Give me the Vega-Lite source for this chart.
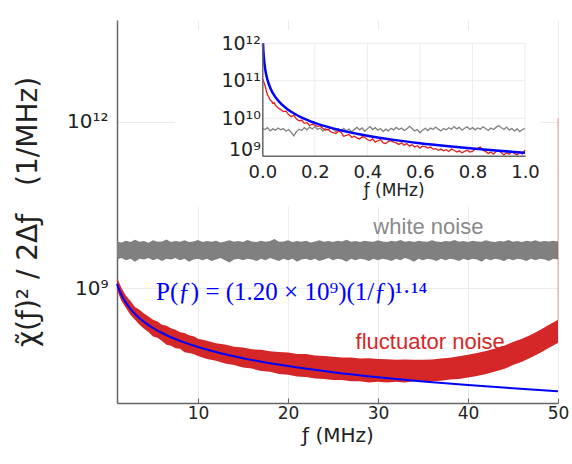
{
  "$schema": "https://vega.github.io/schema/vega-lite/v6.json",
  "width": 441,
  "height": 383,
  "autosize": {"type": "none"},
  "padding": {"left": 117, "top": 20, "right": 14, "bottom": 61},
  "background": "white",
  "config": {
    "view": {"stroke": null},
    "axis": {"labelFont": "DejaVu Sans", "titleFont": "DejaVu Sans", "labelColor": "#222", "titleColor": "#222", "domainColor": "#666", "domainWidth": 1.5, "gridColor": "#ebebeb", "titleFontWeight": "normal", "labelOverlap": false}
  },
  "datasets": {
    "white": [
      {"f": 1, "lo": 3.3e9, "hi": 7.0e9}, {"f": 1.5, "lo": 3.5e9, "hi": 6.7e9}, {"f": 2, "lo": 3.2e9, "hi": 7.2e9}, {"f": 2.5, "lo": 3.4e9, "hi": 6.8e9}, {"f": 3, "lo": 3.0e9, "hi": 7.5e9},
      {"f": 3.5, "lo": 3.4e9, "hi": 6.9e9}, {"f": 4, "lo": 3.3e9, "hi": 7.1e9}, {"f": 4.5, "lo": 3.5e9, "hi": 6.6e9}, {"f": 5, "lo": 3.2e9, "hi": 7.3e9}, {"f": 5.5, "lo": 3.4e9, "hi": 6.9e9},
      {"f": 6, "lo": 3.1e9, "hi": 7.0e9}, {"f": 6.5, "lo": 3.4e9, "hi": 7.6e9}, {"f": 7, "lo": 3.3e9, "hi": 6.8e9}, {"f": 7.5, "lo": 3.5e9, "hi": 7.1e9}, {"f": 8, "lo": 3.2e9, "hi": 6.9e9},
      {"f": 8.5, "lo": 3.4e9, "hi": 7.3e9}, {"f": 9, "lo": 3.0e9, "hi": 6.8e9}, {"f": 9.5, "lo": 3.3e9, "hi": 7.0e9}, {"f": 10, "lo": 3.4e9, "hi": 7.4e9}, {"f": 10.5, "lo": 3.2e9, "hi": 6.8e9},
      {"f": 11, "lo": 3.4e9, "hi": 7.1e9}, {"f": 11.5, "lo": 3.1e9, "hi": 6.9e9}, {"f": 12, "lo": 3.3e9, "hi": 7.2e9}, {"f": 12.5, "lo": 3.5e9, "hi": 6.7e9}, {"f": 13, "lo": 3.2e9, "hi": 7.0e9},
      {"f": 13.5, "lo": 2.9e9, "hi": 7.3e9}, {"f": 14, "lo": 3.3e9, "hi": 6.9e9}, {"f": 14.5, "lo": 3.4e9, "hi": 7.1e9}, {"f": 15, "lo": 3.2e9, "hi": 6.8e9}, {"f": 15.5, "lo": 3.4e9, "hi": 7.4e9},
      {"f": 16, "lo": 3.3e9, "hi": 7.0e9}, {"f": 16.5, "lo": 3.1e9, "hi": 6.8e9}, {"f": 17, "lo": 3.4e9, "hi": 7.2e9}, {"f": 17.5, "lo": 3.2e9, "hi": 6.9e9}, {"f": 18, "lo": 3.5e9, "hi": 7.1e9},
      {"f": 18.5, "lo": 3.3e9, "hi": 7.7e9}, {"f": 19, "lo": 3.1e9, "hi": 6.9e9}, {"f": 19.5, "lo": 3.4e9, "hi": 7.0e9}, {"f": 20, "lo": 3.2e9, "hi": 7.3e9}, {"f": 20.5, "lo": 3.4e9, "hi": 6.8e9},
      {"f": 21, "lo": 3.0e9, "hi": 7.1e9}, {"f": 21.5, "lo": 3.3e9, "hi": 6.9e9}, {"f": 22, "lo": 3.4e9, "hi": 7.2e9}, {"f": 22.5, "lo": 3.2e9, "hi": 6.7e9}, {"f": 23, "lo": 3.4e9, "hi": 7.0e9},
      {"f": 23.5, "lo": 3.1e9, "hi": 7.3e9}, {"f": 24, "lo": 3.3e9, "hi": 6.9e9}, {"f": 24.5, "lo": 3.5e9, "hi": 7.1e9}, {"f": 25, "lo": 3.2e9, "hi": 6.8e9}, {"f": 25.5, "lo": 3.4e9, "hi": 7.2e9},
      {"f": 26, "lo": 3.3e9, "hi": 7.0e9}, {"f": 26.5, "lo": 3.0e9, "hi": 7.5e9}, {"f": 27, "lo": 3.4e9, "hi": 6.9e9}, {"f": 27.5, "lo": 3.2e9, "hi": 7.1e9}, {"f": 28, "lo": 3.4e9, "hi": 6.8e9},
      {"f": 28.5, "lo": 3.3e9, "hi": 7.2e9}, {"f": 29, "lo": 3.1e9, "hi": 7.0e9}, {"f": 29.5, "lo": 3.4e9, "hi": 6.9e9}, {"f": 30, "lo": 3.2e9, "hi": 7.3e9}, {"f": 30.5, "lo": 3.4e9, "hi": 7.0e9},
      {"f": 31, "lo": 3.3e9, "hi": 6.8e9}, {"f": 31.5, "lo": 3.1e9, "hi": 7.2e9}, {"f": 32, "lo": 3.4e9, "hi": 7.0e9}, {"f": 32.5, "lo": 3.2e9, "hi": 7.4e9}, {"f": 33, "lo": 3.5e9, "hi": 6.9e9},
      {"f": 33.5, "lo": 3.3e9, "hi": 7.1e9}, {"f": 34, "lo": 3.0e9, "hi": 6.8e9}, {"f": 34.5, "lo": 3.4e9, "hi": 7.2e9}, {"f": 35, "lo": 3.2e9, "hi": 7.0e9}, {"f": 35.5, "lo": 3.4e9, "hi": 6.9e9},
      {"f": 36, "lo": 3.3e9, "hi": 7.3e9}, {"f": 36.5, "lo": 3.1e9, "hi": 7.0e9}, {"f": 37, "lo": 3.4e9, "hi": 6.8e9}, {"f": 37.5, "lo": 3.2e9, "hi": 7.1e9}, {"f": 38, "lo": 3.4e9, "hi": 7.0e9},
      {"f": 38.5, "lo": 3.3e9, "hi": 7.4e9}, {"f": 39, "lo": 3.1e9, "hi": 6.9e9}, {"f": 39.5, "lo": 3.4e9, "hi": 7.1e9}, {"f": 40, "lo": 3.2e9, "hi": 6.8e9}, {"f": 40.5, "lo": 3.4e9, "hi": 7.2e9},
      {"f": 41, "lo": 3.3e9, "hi": 7.0e9}, {"f": 41.5, "lo": 3.0e9, "hi": 6.9e9}, {"f": 42, "lo": 3.4e9, "hi": 7.3e9}, {"f": 42.5, "lo": 3.2e9, "hi": 7.0e9}, {"f": 43, "lo": 3.4e9, "hi": 6.8e9},
      {"f": 43.5, "lo": 3.3e9, "hi": 7.1e9}, {"f": 44, "lo": 3.1e9, "hi": 7.0e9}, {"f": 44.5, "lo": 3.4e9, "hi": 7.4e9}, {"f": 45, "lo": 3.2e9, "hi": 6.9e9}, {"f": 45.5, "lo": 3.4e9, "hi": 7.1e9},
      {"f": 46, "lo": 3.3e9, "hi": 6.8e9}, {"f": 46.5, "lo": 3.1e9, "hi": 7.2e9}, {"f": 47, "lo": 3.4e9, "hi": 7.0e9}, {"f": 47.5, "lo": 3.2e9, "hi": 7.3e9}, {"f": 48, "lo": 3.4e9, "hi": 6.9e9},
      {"f": 48.5, "lo": 3.3e9, "hi": 7.1e9}, {"f": 49, "lo": 3.1e9, "hi": 7.0e9}, {"f": 49.5, "lo": 3.4e9, "hi": 7.2e9}, {"f": 50, "lo": 3.3e9, "hi": 7.0e9}
    ],
    "fluct": [
      {"f": 1, "lo": 9.3e8, "hi": 1.53e9}, {"f": 1.25, "lo": 7.3e8, "hi": 1.25e9}, {"f": 1.5, "lo": 5.9e8, "hi": 1.01e9}, {"f": 2, "lo": 4.4e8, "hi": 7.3e8}, {"f": 2.5, "lo": 3.3e8, "hi": 5.9e8},
      {"f": 3, "lo": 2.7e8, "hi": 4.6e8}, {"f": 3.5, "lo": 2.2e8, "hi": 4.1e8}, {"f": 4, "lo": 1.85e8, "hi": 3.5e8}, {"f": 4.5, "lo": 1.62e8, "hi": 3.1e8}, {"f": 5, "lo": 1.35e8, "hi": 2.7e8},
      {"f": 5.5, "lo": 1.28e8, "hi": 2.5e8}, {"f": 6, "lo": 1.12e8, "hi": 2.2e8}, {"f": 6.5, "lo": 9.6e7, "hi": 2.1e8}, {"f": 7, "lo": 9.2e7, "hi": 1.9e8}, {"f": 7.5, "lo": 8.3e7, "hi": 1.78e8},
      {"f": 8, "lo": 8.1e7, "hi": 1.6e8}, {"f": 8.5, "lo": 7.0e7, "hi": 1.55e8}, {"f": 9, "lo": 6.8e7, "hi": 1.42e8}, {"f": 9.5, "lo": 6.5e7, "hi": 1.36e8}, {"f": 10, "lo": 6.0e7, "hi": 1.22e8},
      {"f": 11, "lo": 5.3e7, "hi": 1.13e8}, {"f": 12, "lo": 4.9e7, "hi": 1.02e8},
      {"f": 13, "lo": 4.4e7, "hi": 9.7e7}, {"f": 14, "lo": 4.1e7, "hi": 8.8e7}, {"f": 15, "lo": 3.7e7, "hi": 8.5e7}, {"f": 16, "lo": 3.55e7, "hi": 7.9e7}, {"f": 17, "lo": 3.2e7, "hi": 7.8e7},
      {"f": 18, "lo": 3.1e7, "hi": 7.3e7}, {"f": 19, "lo": 2.85e7, "hi": 7.1e7}, {"f": 20, "lo": 2.75e7, "hi": 6.9e7}, {"f": 21, "lo": 2.55e7, "hi": 6.5e7}, {"f": 22, "lo": 2.5e7, "hi": 6.5e7},
      {"f": 23, "lo": 2.35e7, "hi": 6.1e7}, {"f": 24, "lo": 2.3e7, "hi": 6.0e7}, {"f": 25, "lo": 2.2e7, "hi": 5.8e7}, {"f": 26, "lo": 2.2e7, "hi": 5.6e7}, {"f": 27, "lo": 2.1e7, "hi": 5.65e7},
      {"f": 28, "lo": 2.1e7, "hi": 5.4e7}, {"f": 29, "lo": 2.0e7, "hi": 5.45e7}, {"f": 30, "lo": 2.05e7, "hi": 5.3e7}, {"f": 31, "lo": 2.0e7, "hi": 5.25e7}, {"f": 32, "lo": 2.05e7, "hi": 5.1e7},
      {"f": 33, "lo": 2.0e7, "hi": 5.2e7}, {"f": 34, "lo": 2.1e7, "hi": 5.1e7}, {"f": 35, "lo": 2.05e7, "hi": 5.15e7}, {"f": 36, "lo": 2.1e7, "hi": 5.2e7}, {"f": 37, "lo": 2.15e7, "hi": 5.4e7},
      {"f": 38, "lo": 2.25e7, "hi": 5.55e7}, {"f": 39, "lo": 2.3e7, "hi": 5.9e7}, {"f": 40, "lo": 2.45e7, "hi": 6.3e7}, {"f": 41, "lo": 2.6e7, "hi": 6.8e7}, {"f": 42, "lo": 2.85e7, "hi": 7.4e7},
      {"f": 43, "lo": 3.15e7, "hi": 8.2e7}, {"f": 44, "lo": 3.5e7, "hi": 9.2e7}, {"f": 45, "lo": 4.1e7, "hi": 1.07e8}, {"f": 46, "lo": 4.7e7, "hi": 1.22e8}, {"f": 47, "lo": 5.6e7, "hi": 1.45e8},
      {"f": 48, "lo": 6.8e7, "hi": 1.77e8}, {"f": 49, "lo": 8.4e7, "hi": 2.2e8}, {"f": 50, "lo": 1.03e8, "hi": 2.7e8}
    ],
    "fit": [
      {"f": 1, "v": 1.2e9}, {"f": 1.25, "v": 9.305e8}, {"f": 1.5, "v": 7.556e8}, {"f": 2, "v": 5.445e8}, {"f": 2.5, "v": 4.222e8}, {"f": 3, "v": 3.43e8}, {"f": 4, "v": 2.471e8},
      {"f": 5, "v": 1.916e8}, {"f": 6, "v": 1.556e8}, {"f": 7, "v": 1.306e8}, {"f": 8, "v": 1.121e8}, {"f": 10, "v": 8.693e7}, {"f": 12, "v": 7.062e7}, {"f": 15, "v": 5.476e7},
      {"f": 18, "v": 4.448e7}, {"f": 20, "v": 3.945e7}, {"f": 25, "v": 3.058e7}, {"f": 30, "v": 2.485e7}, {"f": 35, "v": 2.084e7}, {"f": 40, "v": 1.79e7}, {"f": 45, "v": 1.565e7}, {"f": 50, "v": 1.388e7}
    ],
    "igray": [
      {"f": 0, "v": 5.4e9}, {"f": 0.01, "v": 5.0e9}, {"f": 0.02, "v": 5.6e9}, {"f": 0.03, "v": 4.6e9}, {"f": 0.04, "v": 5.2e9}, {"f": 0.05, "v": 4.8e9}, {"f": 0.06, "v": 5.5e9}, {"f": 0.07, "v": 4.9e9}, {"f": 0.08, "v": 5.3e9}, {"f": 0.09, "v": 4.5e9},
      {"f": 0.1, "v": 5.0e9}, {"f": 0.11, "v": 4.2e9}, {"f": 0.12, "v": 3.4e9}, {"f": 0.13, "v": 4.4e9}, {"f": 0.14, "v": 5.1e9}, {"f": 0.15, "v": 4.7e9}, {"f": 0.16, "v": 5.6e9}, {"f": 0.17, "v": 4.9e9}, {"f": 0.18, "v": 5.8e9}, {"f": 0.19, "v": 5.2e9},
      {"f": 0.2, "v": 6.0e9}, {"f": 0.21, "v": 5.0e9}, {"f": 0.22, "v": 5.5e9}, {"f": 0.23, "v": 4.6e9}, {"f": 0.24, "v": 5.3e9}, {"f": 0.25, "v": 4.8e9}, {"f": 0.26, "v": 5.6e9}, {"f": 0.27, "v": 5.0e9}, {"f": 0.28, "v": 4.4e9}, {"f": 0.29, "v": 5.2e9},
      {"f": 0.3, "v": 4.7e9}, {"f": 0.31, "v": 5.4e9}, {"f": 0.32, "v": 4.6e9}, {"f": 0.33, "v": 5.1e9}, {"f": 0.34, "v": 4.3e9}, {"f": 0.35, "v": 5.0e9}, {"f": 0.36, "v": 5.7e9}, {"f": 0.37, "v": 4.9e9}, {"f": 0.38, "v": 5.5e9}, {"f": 0.39, "v": 4.5e9},
      {"f": 0.4, "v": 5.2e9}, {"f": 0.41, "v": 6.0e9}, {"f": 0.42, "v": 5.0e9}, {"f": 0.43, "v": 5.6e9}, {"f": 0.44, "v": 4.8e9}, {"f": 0.45, "v": 5.3e9}, {"f": 0.46, "v": 4.4e9}, {"f": 0.47, "v": 5.1e9}, {"f": 0.48, "v": 4.6e9}, {"f": 0.49, "v": 5.4e9},
      {"f": 0.5, "v": 4.9e9}, {"f": 0.51, "v": 5.7e9}, {"f": 0.52, "v": 5.0e9}, {"f": 0.53, "v": 5.5e9}, {"f": 0.54, "v": 4.7e9}, {"f": 0.55, "v": 5.2e9}, {"f": 0.56, "v": 6.1e9}, {"f": 0.57, "v": 5.3e9}, {"f": 0.58, "v": 4.6e9}, {"f": 0.59, "v": 5.0e9},
      {"f": 0.6, "v": 4.1e9}, {"f": 0.61, "v": 4.8e9}, {"f": 0.62, "v": 5.4e9}, {"f": 0.63, "v": 4.7e9}, {"f": 0.64, "v": 5.5e9}, {"f": 0.65, "v": 5.0e9}, {"f": 0.66, "v": 5.8e9}, {"f": 0.67, "v": 5.1e9}, {"f": 0.68, "v": 4.6e9}, {"f": 0.69, "v": 5.3e9},
      {"f": 0.7, "v": 4.9e9}, {"f": 0.71, "v": 5.6e9}, {"f": 0.72, "v": 5.1e9}, {"f": 0.73, "v": 6.0e9}, {"f": 0.74, "v": 5.2e9}, {"f": 0.75, "v": 5.7e9}, {"f": 0.76, "v": 4.8e9}, {"f": 0.77, "v": 5.4e9}, {"f": 0.78, "v": 5.9e9}, {"f": 0.79, "v": 5.0e9},
      {"f": 0.8, "v": 5.6e9}, {"f": 0.81, "v": 4.9e9}, {"f": 0.82, "v": 5.5e9}, {"f": 0.83, "v": 5.1e9}, {"f": 0.84, "v": 5.9e9}, {"f": 0.85, "v": 5.3e9}, {"f": 0.86, "v": 4.7e9}, {"f": 0.87, "v": 5.5e9}, {"f": 0.88, "v": 5.0e9}, {"f": 0.89, "v": 5.7e9},
      {"f": 0.9, "v": 6.4e9}, {"f": 0.91, "v": 5.6e9}, {"f": 0.92, "v": 5.0e9}, {"f": 0.93, "v": 5.8e9}, {"f": 0.94, "v": 4.8e9}, {"f": 0.95, "v": 5.3e9}, {"f": 0.96, "v": 4.6e9}, {"f": 0.97, "v": 5.2e9}, {"f": 0.98, "v": 4.4e9}, {"f": 0.99, "v": 5.0e9},
      {"f": 1.0, "v": 5.3e9}
    ],
    "ired": [
      {"f": 0, "v": 1.16e11}, {"f": 0.005, "v": 9.5e10}, {"f": 0.01, "v": 7.7e10}, {"f": 0.015, "v": 5.5e10}, {"f": 0.02, "v": 4.2e10}, {"f": 0.025, "v": 3.7e10}, {"f": 0.03, "v": 3.0e10}, {"f": 0.035, "v": 2.9e10},
      {"f": 0.04, "v": 2.5e10}, {"f": 0.045, "v": 2.6e10}, {"f": 0.05, "v": 2.2e10}, {"f": 0.06, "v": 1.9e10}, {"f": 0.07, "v": 1.7e10}, {"f": 0.08, "v": 1.5e10}, {"f": 0.09, "v": 1.55e10},
      {"f": 0.1, "v": 1.25e10}, {"f": 0.11, "v": 1.1e10}, {"f": 0.12, "v": 1.2e10}, {"f": 0.13, "v": 9.5e9}, {"f": 0.14, "v": 8.5e9}, {"f": 0.15, "v": 8.8e9}, {"f": 0.16, "v": 7.3e9}, {"f": 0.17, "v": 7.6e9},
      {"f": 0.18, "v": 6.4e9}, {"f": 0.19, "v": 6.9e9}, {"f": 0.2, "v": 6.6e9}, {"f": 0.21, "v": 6.0e9}, {"f": 0.22, "v": 6.3e9}, {"f": 0.23, "v": 5.4e9}, {"f": 0.24, "v": 4.8e9}, {"f": 0.25, "v": 5.1e9},
      {"f": 0.26, "v": 4.4e9}, {"f": 0.27, "v": 4.1e9}, {"f": 0.28, "v": 3.9e9}, {"f": 0.29, "v": 4.5e9}, {"f": 0.3, "v": 4.2e9}, {"f": 0.31, "v": 3.3e9}, {"f": 0.32, "v": 3.5e9}, {"f": 0.33, "v": 3.7e9},
      {"f": 0.34, "v": 3.1e9}, {"f": 0.35, "v": 3.3e9}, {"f": 0.36, "v": 3.0e9}, {"f": 0.37, "v": 2.8e9}, {"f": 0.38, "v": 3.2e9}, {"f": 0.39, "v": 3.1e9}, {"f": 0.4, "v": 2.7e9}, {"f": 0.41, "v": 2.5e9},
      {"f": 0.42, "v": 2.8e9}, {"f": 0.43, "v": 2.3e9}, {"f": 0.44, "v": 2.5e9}, {"f": 0.45, "v": 2.7e9}, {"f": 0.46, "v": 2.2e9}, {"f": 0.47, "v": 2.1e9}, {"f": 0.48, "v": 2.4e9}, {"f": 0.49, "v": 2.5e9},
      {"f": 0.5, "v": 2.3e9}, {"f": 0.51, "v": 2.2e9}, {"f": 0.52, "v": 2.0e9}, {"f": 0.53, "v": 2.2e9}, {"f": 0.54, "v": 1.9e9}, {"f": 0.55, "v": 2.1e9}, {"f": 0.56, "v": 1.8e9}, {"f": 0.57, "v": 1.95e9},
      {"f": 0.58, "v": 1.7e9}, {"f": 0.59, "v": 1.85e9}, {"f": 0.6, "v": 1.6e9}, {"f": 0.61, "v": 1.8e9}, {"f": 0.62, "v": 1.75e9}, {"f": 0.63, "v": 1.6e9}, {"f": 0.64, "v": 1.7e9}, {"f": 0.65, "v": 1.5e9},
      {"f": 0.66, "v": 1.55e9}, {"f": 0.67, "v": 1.4e9}, {"f": 0.68, "v": 1.5e9}, {"f": 0.69, "v": 1.35e9}, {"f": 0.7, "v": 1.45e9}, {"f": 0.71, "v": 1.3e9}, {"f": 0.72, "v": 1.5e9}, {"f": 0.73, "v": 1.4e9},
      {"f": 0.74, "v": 1.25e9}, {"f": 0.75, "v": 1.35e9}, {"f": 0.76, "v": 1.2e9}, {"f": 0.77, "v": 1.3e9}, {"f": 0.78, "v": 1.4e9}, {"f": 0.79, "v": 1.25e9}, {"f": 0.8, "v": 1.3e9}, {"f": 0.81, "v": 1.5e9},
      {"f": 0.82, "v": 1.6e9}, {"f": 0.83, "v": 1.7e9}, {"f": 0.84, "v": 1.4e9}, {"f": 0.85, "v": 1.3e9}, {"f": 0.86, "v": 1.15e9}, {"f": 0.87, "v": 1.25e9}, {"f": 0.88, "v": 1.1e9}, {"f": 0.89, "v": 1.3e9},
      {"f": 0.9, "v": 1.4e9}, {"f": 0.91, "v": 1.2e9}, {"f": 0.92, "v": 1.05e9}, {"f": 0.93, "v": 1.2e9}, {"f": 0.94, "v": 1.1e9}, {"f": 0.95, "v": 1.3e9}, {"f": 0.96, "v": 1.15e9}, {"f": 0.97, "v": 1.05e9},
      {"f": 0.98, "v": 1.25e9}, {"f": 0.99, "v": 1.1e9}, {"f": 1.0, "v": 1.4e9}
    ],
    "ifit": [
      {"f": 0.00275, "v": 9.96e11}, {"f": 0.003, "v": 9.02e11}, {"f": 0.004, "v": 6.5e11}, {"f": 0.005, "v": 5.04e11}, {"f": 0.0075, "v": 3.174e11}, {"f": 0.01, "v": 2.287e11},
      {"f": 0.015, "v": 1.44e11}, {"f": 0.02, "v": 1.038e11}, {"f": 0.03, "v": 6.535e10}, {"f": 0.05, "v": 3.65e10}, {"f": 0.075, "v": 2.299e10}, {"f": 0.1, "v": 1.656e10},
      {"f": 0.15, "v": 1.043e10}, {"f": 0.2, "v": 7.516e9}, {"f": 0.3, "v": 4.735e9}, {"f": 0.4, "v": 3.41e9}, {"f": 0.5, "v": 2.644e9}, {"f": 0.6, "v": 2.148e9},
      {"f": 0.7, "v": 1.803e9}, {"f": 0.8, "v": 1.548e9}, {"f": 0.9, "v": 1.353e9}, {"f": 1.0, "v": 1.2e9}
    ]
  },
  "resolve": {"scale": {"x": "independent", "y": "independent"}, "axis": {"x": "independent", "y": "independent"}},
  "layer": [
    {
      "layer": [
        {
          "data": {"name": "white"},
          "mark": {"type": "area", "color": "#808080"},
          "encoding": {
            "x": {"field": "f", "type": "quantitative", "scale": {"domain": [1, 50], "nice": false, "zero": false},
              "axis": {"orient": "bottom", "values": [10, 20, 30, 40, 50], "title": "ƒ (MHz)", "titleFontSize": 20, "labelFontSize": 17, "grid": true, "ticks": true, "tickSize": -5, "tickColor": "#666", "labelPadding": 7, "titlePadding": 4, "labelFlush": false}},
            "y": {"field": "lo", "type": "quantitative", "scale": {"type": "log", "domain": [8.5e6, 6.9e13], "nice": false},
              "axis": {"orient": "left", "values": [1e9, 1e12], "labelExpr": "datum.value > 1e11 ? '10¹²' : '10⁹'", "title": "χ̃(ƒ)² / 2Δƒ\u2003(1/MHz)", "titleFont": "DejaVu Sans", "titleFontSize": 28, "labelFontSize": 20, "grid": true, "ticks": false, "labelPadding": 9, "titlePadding": 24}},
            "y2": {"field": "hi"}
          }
        },
        {
          "data": {"name": "fluct"},
          "mark": {"type": "area", "color": "#d62728"},
          "encoding": {
            "x": {"field": "f", "type": "quantitative"},
            "y": {"field": "lo", "type": "quantitative"},
            "y2": {"field": "hi"}
          }
        },
        {
          "data": {"values": [{}]},
          "mark": {"type": "rule", "color": "#d62728", "opacity": 0.3, "strokeWidth": 1.5},
          "encoding": {"x": {"datum": 50}, "y": {"datum": 2.7e8}, "y2": {"datum": 1.17e12}}
        },
        {
          "data": {"name": "fit"},
          "mark": {"type": "line", "color": "#0000ff", "strokeWidth": 2, "interpolate": "monotone"},
          "encoding": {
            "x": {"field": "f", "type": "quantitative"},
            "y": {"field": "v", "type": "quantitative"}
          }
        },
        {
          "data": {"values": [{}]},
          "mark": {"type": "text", "text": "white noise", "font": "Liberation Sans", "fontSize": 22, "color": "#8a8a8a", "align": "center", "baseline": "middle"},
          "encoding": {"x": {"datum": 35.6}, "y": {"datum": 1.27e10}}
        },
        {
          "data": {"values": [{}]},
          "mark": {"type": "text", "text": "fluctuator noise", "font": "Liberation Sans", "fontSize": 22, "color": "#d62728", "align": "center", "baseline": "middle"},
          "encoding": {"x": {"datum": 35.8}, "y": {"datum": 1.09e8}}
        },
        {
          "data": {"values": [{}]},
          "mark": {"type": "text", "text": "P(ƒ) = (1.20 × 10⁹)(1/ƒ)¹·¹⁴", "font": "Liberation Serif", "fontSize": 25, "color": "#0000ff", "align": "center", "baseline": "middle"},
          "encoding": {"x": {"datum": 20.4}, "y": {"datum": 8.6e8}}
        }
      ]
    },
    {
      "layer": [
        {
          "data": {"values": [{}]},
          "mark": {"type": "rect", "color": "white"},
          "encoding": {
            "x": {"datum": -0.333, "type": "quantitative", "scale": {"domain": [0, 1], "range": [145.3, 408], "nice": false, "zero": false},
              "axis": {"orient": "bottom", "offset": -247.3, "values": [0, 0.2, 0.4, 0.6, 0.8, 1], "format": ".1f", "title": "ƒ (MHz)", "titleFontSize": 17, "labelFontSize": 18, "grid": false, "ticks": false, "labelPadding": 8, "titlePadding": 1, "zindex": 1, "labelFlush": false}},
            "x2": {"datum": 1.059},
            "y": {"datum": 4.28e7, "type": "quantitative", "scale": {"type": "log", "domain": [1e9, 1e12], "range": [135.7, 23.3], "nice": false},
              "axis": {"orient": "left", "offset": -145.3, "values": [1e9, 1e10, 1e11, 1e12], "labelExpr": "datum.value > 5e11 ? '10¹²' : datum.value > 5e10 ? '10¹¹' : datum.value > 5e9 ? '10¹⁰' : '10⁹'", "labelBaseline": {"condition": {"test": "datum.value < 5e9", "value": "alphabetic"}, "value": "middle"}, "title": null, "labelFontSize": 19, "ticks": false, "grid": false, "labelPadding": 2, "zindex": 1}},
            "y2": {"datum": 2.27e12}
          }
        },
        {
          "data": {"values": [{"g": 0.2}, {"g": 0.4}, {"g": 0.6}, {"g": 0.8}, {"g": 1.0}]},
          "mark": {"type": "rule", "color": "#ebebeb", "strokeWidth": 1},
          "encoding": {"x": {"field": "g", "type": "quantitative"}, "y": {"datum": 1e9}, "y2": {"datum": 1e12}}
        },
        {
          "data": {"values": [{"g": 1e10}, {"g": 1e11}, {"g": 1e12}]},
          "mark": {"type": "rule", "color": "#ebebeb", "strokeWidth": 1},
          "encoding": {"y": {"field": "g", "type": "quantitative"}, "x": {"datum": 0}, "x2": {"datum": 1}}
        },
        {
          "data": {"name": "igray"},
          "mark": {"type": "line", "color": "#808080", "strokeWidth": 1.3},
          "encoding": {"x": {"field": "f", "type": "quantitative"}, "y": {"field": "v", "type": "quantitative"}}
        },
        {
          "data": {"name": "ired"},
          "mark": {"type": "line", "color": "#e0201e", "strokeWidth": 1.3},
          "encoding": {"x": {"field": "f", "type": "quantitative"}, "y": {"field": "v", "type": "quantitative"}}
        },
        {
          "data": {"name": "ifit"},
          "mark": {"type": "line", "color": "#0000ff", "strokeWidth": 2.5, "interpolate": "monotone"},
          "encoding": {"x": {"field": "f", "type": "quantitative"}, "y": {"field": "v", "type": "quantitative"}}
        }
      ]
    }
  ]
}
